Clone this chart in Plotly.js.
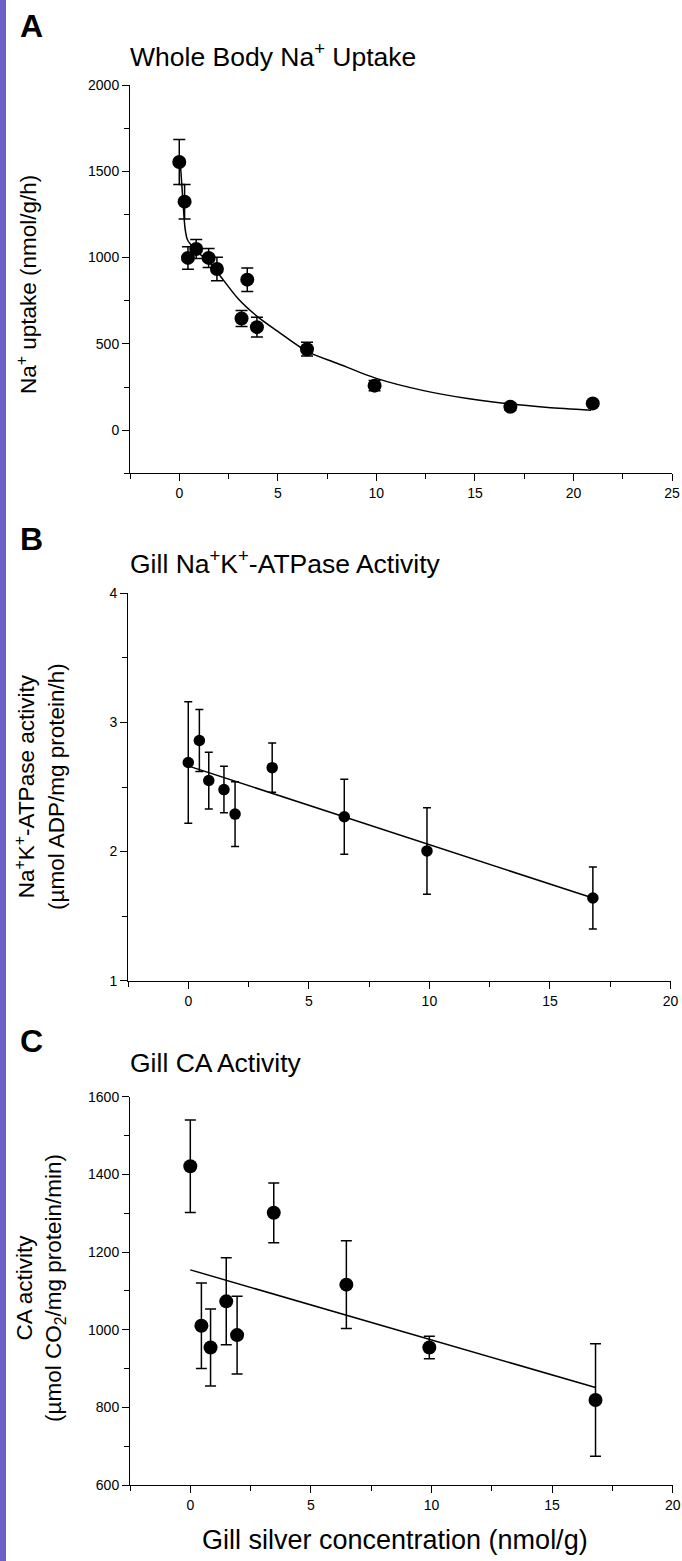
<!DOCTYPE html>
<html>
<head>
<meta charset="utf-8">
<script src="https://cdn.plot.ly/plotly-3.0.1.min.js"></script>
<style>html,body{margin:0;padding:0;background:#fff;}</style>
</head>
<body>
<div id="chart" style="width:682px;height:1561px;"></div>
<script>
// Panel A: Whole body Na+ uptake
const A_x   = [0.0, 0.27, 0.44, 0.86, 1.49, 1.91, 3.16, 3.45, 3.94, 6.48, 9.91, 16.8, 20.98];
const A_y   = [1554, 1324, 998, 1050, 998, 934, 647, 872, 597, 469, 258, 136, 155];
const A_err = [130, 100, 65, 55, 55, 68, 47, 68, 57, 40, 30, 20, 15];
const A_fit_x = [0.05, 0.18, 0.30, 0.41, 0.71, 1.0, 1.5, 2.0, 3.0, 4.0, 5.0, 6.5, 8.0, 10.0, 12.4, 14.8, 16.8, 18.7, 20.9];
const A_fit_y = [1552, 1337, 1163, 1105, 1058, 1025, 975, 905, 760, 655, 572, 455, 388, 300, 229, 180, 151, 132, 116];

// Panel B: Gill Na+K+-ATPase activity
const B_x   = [0.0, 0.46, 0.85, 1.48, 1.94, 3.48, 6.47, 9.9, 16.78];
const B_y   = [2.69, 2.86, 2.55, 2.48, 2.29, 2.65, 2.27, 2.005, 1.64];
const B_err = [0.47, 0.24, 0.22, 0.18, 0.25, 0.19, 0.29, 0.335, 0.24];
const B_fit_x = [0.05, 16.78];
const B_fit_y = [2.66, 1.64];

// Panel C: Gill CA activity
const C_x   = [0.0, 0.46, 0.84, 1.49, 1.94, 3.46, 6.47, 9.91, 16.8];
const C_y   = [1421, 1010, 954, 1073, 986, 1301, 1116, 954, 819];
const C_err = [119, 110, 99, 112, 100, 77, 113, 29, 145];
const C_fit_x = [0.0, 16.8];
const C_fit_y = [1154, 851];

// Labels
const panelLetters = ['A', 'B', 'C'];
const panelTitles = ['Whole Body Na<sup>+</sup> Uptake', 'Gill Na<sup>+</sup>K<sup>+</sup>-ATPase Activity', 'Gill CA Activity'];
const yTitles = ['Na<sup>+</sup> uptake (nmol/g/h)',
                 'Na<sup>+</sup>K<sup>+</sup>-ATPase activity<br>(µmol ADP/mg protein/h)',
                 'CA activity<br>(µmol CO<sub>2</sub>/mg protein/min)'];
const xTitle = 'Gill silver concentration (nmol/g)';

const W = 682, H = 1561;
const FONT = 'Liberation Sans, Arial, sans-serif';
const px = v => v / W;
const py = v => 1 - v / H;

function pts(x, y, err, xa, ya, size, cap) {
  return {x, y, xaxis: xa, yaxis: ya, type: 'scatter', mode: 'markers',
    marker: {color: '#000', size: size},
    error_y: {type: 'data', array: err, visible: true, color: '#000', thickness: 1.5, width: cap},
    showlegend: false, hoverinfo: 'skip'};
}
function fit(x, y, xa, ya, shape) {
  return {x, y, xaxis: xa, yaxis: ya, type: 'scatter', mode: 'lines',
    line: {color: '#000', width: 1.5, shape: shape, smoothing: 0.8},
    showlegend: false, hoverinfo: 'skip'};
}

const data = [
  fit(A_fit_x, A_fit_y, 'x', 'y', 'spline'),
  pts(A_x, A_y, A_err, 'x', 'y', 14, 6),
  fit(B_fit_x, B_fit_y, 'x2', 'y2', 'linear'),
  pts(B_x, B_y, B_err, 'x2', 'y2', 11.5, 4),
  fit(C_fit_x, C_fit_y, 'x3', 'y3', 'linear'),
  pts(C_x, C_y, C_err, 'x3', 'y3', 14, 5.5)
];

function xa(domain, anchor, range) {
  return {domain, anchor, range, tick0: 0, dtick: 5, ticks: 'outside', ticklen: 7, tickwidth: 1,
    tickcolor: '#000', showline: true, linecolor: '#000', linewidth: 1, showgrid: false, zeroline: false,
    tickfont: {family: FONT, size: 14, color: '#000'},
    minor: {dtick: 2.5, tick0: 0, ticks: 'outside', ticklen: 5, tickcolor: '#000', tickwidth: 1, showgrid: false}};
}
function ya(domain, anchor, range, dtick, mdtick) {
  return {domain, anchor, range, tick0: 0, dtick, ticks: 'outside', ticklen: 7, tickwidth: 1,
    tickcolor: '#000', showline: true, linecolor: '#000', linewidth: 1, showgrid: false, zeroline: false,
    tickfont: {family: FONT, size: 14, color: '#000'},
    minor: {dtick: mdtick, tick0: 0, ticks: 'outside', ticklen: 5, tickcolor: '#000', tickwidth: 1, showgrid: false}};
}

const annotations = [];
const letterY = [26, 539, 1041];
const titleY = [55, 562, 1063];
const yTitleY = [285, 787, 1288];
const yTitleX = [27, 40, 40];
for (let i = 0; i < 3; i++) {
  annotations.push({text: '<b>' + panelLetters[i] + '</b>', xref: 'paper', yref: 'paper',
    x: px(18), y: py(letterY[i]), xanchor: 'left', yanchor: 'middle', showarrow: false,
    font: {family: FONT, size: 32, color: '#000'}});
  annotations.push({text: panelTitles[i], xref: 'paper', yref: 'paper',
    x: px(128), y: py(titleY[i]), xanchor: 'left', yanchor: 'middle', showarrow: false,
    font: {family: FONT, size: 26.5, color: '#000'}});
  annotations.push({text: yTitles[i], xref: 'paper', yref: 'paper', textangle: -90,
    x: px(yTitleX[i]), y: py(yTitleY[i]), xanchor: 'center', yanchor: 'middle', showarrow: false,
    font: {family: FONT, size: 22.5, color: '#000'}});
}
annotations.push({text: xTitle, xref: 'paper', yref: 'paper',
  x: px(395), y: py(1540), xanchor: 'center', yanchor: 'middle', showarrow: false,
  font: {family: FONT, size: 27, color: '#000'}});

const layout = {
  width: W, height: H,
  margin: {l: 0, r: 0, t: 0, b: 0, pad: 0},
  paper_bgcolor: '#fff', plot_bgcolor: '#fff',
  font: {family: FONT, color: '#000'},
  showlegend: false,
  xaxis:  xa([px(130), px(672)], 'y', [-2.5, 25]),
  yaxis:  ya([py(473.3), py(85)], 'x', [-250, 2000], 500, 250),
  xaxis2: xa([px(128), px(670.5)], 'y2', [-2.5, 20]),
  yaxis2: ya([py(980.7), py(593.3)], 'x2', [1, 4], 1, 0.5),
  xaxis3: xa([px(130), px(672.7)], 'y3', [-2.5, 20]),
  yaxis3: ya([py(1485), py(1096.7)], 'x3', [600, 1600], 200, 100),
  shapes: [{type: 'rect', xref: 'paper', yref: 'paper', x0: 0, x1: px(6), y0: 0, y1: 1,
    fillcolor: '#6a60c8', line: {width: 0}, layer: 'above'}],
  annotations
};

Plotly.newPlot('chart', data, layout, {staticPlot: true, displayModeBar: false});
</script>
</body>
</html>
